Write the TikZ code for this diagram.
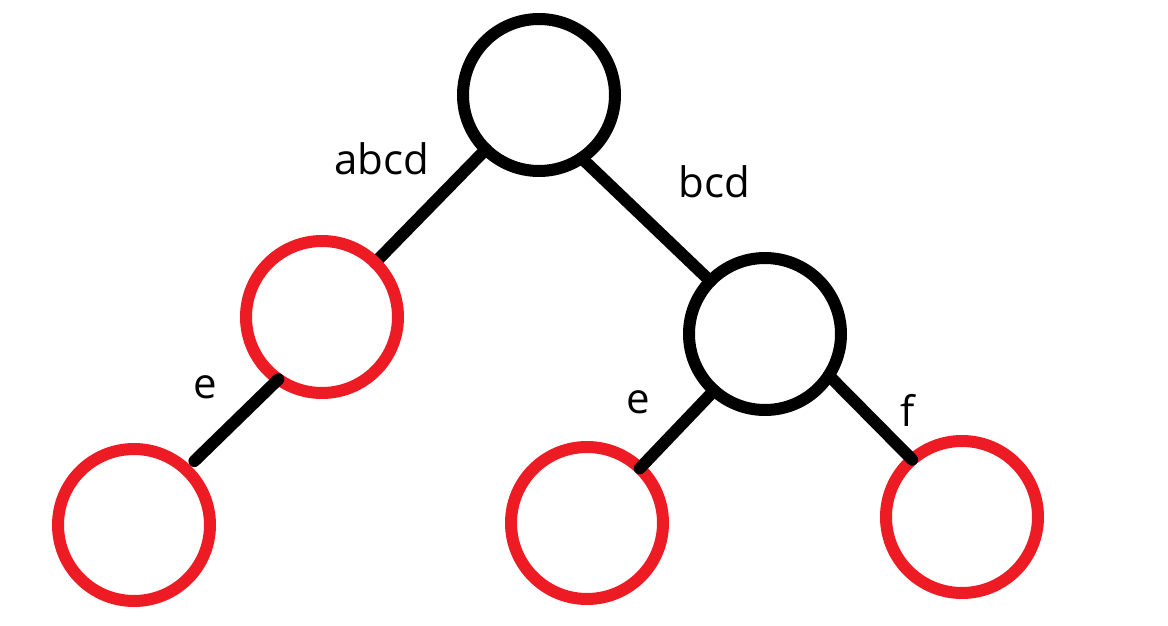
\documentclass[tikz,border=0pt]{standalone}
\usepackage{fontspec}
\setmainfont{Open Sans}
\usetikzlibrary{positioning,backgrounds}
\definecolor{leafred}{RGB}{237,28,36}

\begin{document}
\begin{tikzpicture}[
    x=1pt,y=-1pt,
    trienode/.style={circle,draw,line width=12pt,minimum size=152pt,inner sep=0pt,outer sep=0pt},
    leaf/.style={trienode,draw=leafred},
    edgelabel/.style={font=\fontsize{42}{50}\selectfont,inner sep=0pt},
    link/.style={line width=12pt,line cap=round}
]
    \useasboundingbox (0,0) rectangle (1168,626);

    % Trie nodes
    \node[trienode] (root) at (539,95) {};
    \node[leaf] (nabcd) at (322,317) {};
    \node[trienode] (nbcd) at (765,334) {};
    \node[leaf] (nabcde) at (134,525) {};
    \node[leaf] (nbcde) at (587,523) {};
    \node[leaf] (nbcdf) at (962,517) {};

    % Edge labels
    \node[edgelabel] (labcd) at (382,159) {abcd};
    \node[edgelabel] (lbcd) at (714,182) {bcd};
    \node[edgelabel] (le1) at (205,387) {e};
    \node[edgelabel] (le2) at (638,402) {e};
    \node[edgelabel] (lf) at (908,410) {f};

    % Edges
    \begin{scope}[on background layer]
        \draw[link] (root) -- (nabcd);
    \end{scope}
    \draw[link,shorten >=12pt] (nabcd.235) -- (nabcde.47);
    \draw[link] (root.-56) -- (nbcd.136);
    \draw[link] (nbcd.228) -- (nbcde.46);
    \draw[link] (nbcd.-33) -- (nbcdf.131);
\end{tikzpicture}
\end{document}
